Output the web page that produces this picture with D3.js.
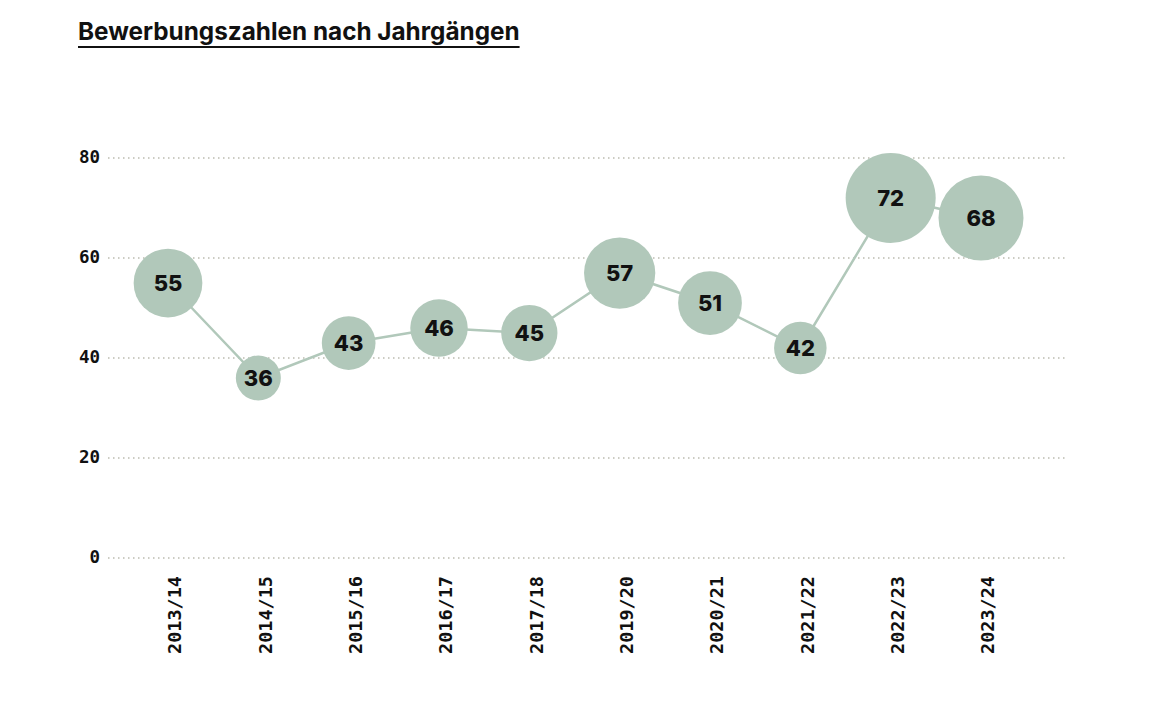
<!DOCTYPE html>
<html>
<head>
<meta charset="utf-8">
<script src="https://cdn.jsdelivr.net/npm/d3@7"></script>
<style>
  body { margin: 0; background: #fff; }
  svg { display: block; }
</style>
</head>
<body>
<div id="chart"></div>
<script>
// Bewerbungszahlen nach Jahrgängen

const years = ['2013/14', '2014/15', '2015/16', '2016/17', '2017/18',
               '2019/20', '2020/21', '2021/22', '2022/23', '2023/24'];
const applications = [55, 36, 43, 46, 45, 57, 51, 42, 72, 68];
const yTicks = [0, 20, 40, 60, 80];

const width = 1173;
const height = 702;
const bubbleColor = '#b1c8ba';

const svg = d3.select('#chart')
    .append('svg')
    .attr('width', width)
    .attr('height', height);

// Title with underline
const title = svg.append('text')
    .attr('x', 78)
    .attr('y', 40)
    .style('font-family', 'Inter, "Noto Sans", sans-serif')
    .style('font-weight', 700)
    .style('font-size', '24.3px')
    .style('fill', '#111')
    .text('Bewerbungszahlen nach Jahrgängen');

const titleWidth = title.node().getComputedTextLength();
svg.append('line')
    .attr('x1', 78)
    .attr('x2', 78 + titleWidth)
    .attr('y1', 47)
    .attr('y2', 47)
    .style('stroke', '#111')
    .style('stroke-width', 2);

// Scales
const x = d3.scalePoint()
    .domain(years)
    .range([168, 981]);

const y = d3.scaleLinear()
    .domain([0, 80])
    .range([558, 158]);

const r = d3.scaleLinear()
    .domain([0, 80])
    .range([0, 50]);

// Gridlines
const grid = svg.append('g');
yTicks.forEach(t => {
    grid.append('line')
        .attr('x1', 108)
        .attr('x2', 1068)
        .attr('y1', y(t))
        .attr('y2', y(t))
        .style('stroke', '#999988')
        .style('stroke-width', 1.2)
        .style('stroke-dasharray', '1.5,3.5');
});

// Y axis labels
const monoFont = '"DejaVu Sans Mono", "Liberation Mono", monospace';
svg.append('g').selectAll('text')
    .data(yTicks)
    .join('text')
    .attr('x', 100)
    .attr('y', d => y(d))
    .attr('dy', '0.3em')
    .attr('text-anchor', 'end')
    .style('font-family', monoFont)
    .style('font-weight', 700)
    .style('font-size', '17.5px')
    .style('fill', '#111')
    .text(d => d);

// X axis labels (rotated)
svg.append('g').selectAll('text')
    .data(years)
    .join('text')
    .attr('transform', d => `translate(${x(d) + 7}, 576) rotate(-90)`)
    .attr('dy', '0.35em')
    .attr('text-anchor', 'end')
    .style('font-family', monoFont)
    .style('font-weight', 700)
    .style('font-size', '18.5px')
    .style('fill', '#111')
    .text(d => d);

// Connecting line
const points = years.map((yr, i) => [x(yr), y(applications[i])]);
svg.append('path')
    .attr('d', d3.line()(points))
    .style('fill', 'none')
    .style('stroke', bubbleColor)
    .style('stroke-width', 2.5);

// Bubbles
const bubbles = svg.append('g').selectAll('g')
    .data(years)
    .join('g')
    .attr('transform', (d, i) => `translate(${x(d)}, ${y(applications[i])})`);

bubbles.append('circle')
    .attr('r', (d, i) => r(applications[i]))
    .style('fill', bubbleColor);

bubbles.append('text')
    .attr('text-anchor', 'middle')
    .attr('dy', '0.36em')
    .style('font-family', 'Inter, "Noto Sans", sans-serif')
    .style('font-weight', 800)
    .style('font-size', '22px')
    .style('fill', '#111')
    .text((d, i) => applications[i]);
</script>
</body>
</html>
